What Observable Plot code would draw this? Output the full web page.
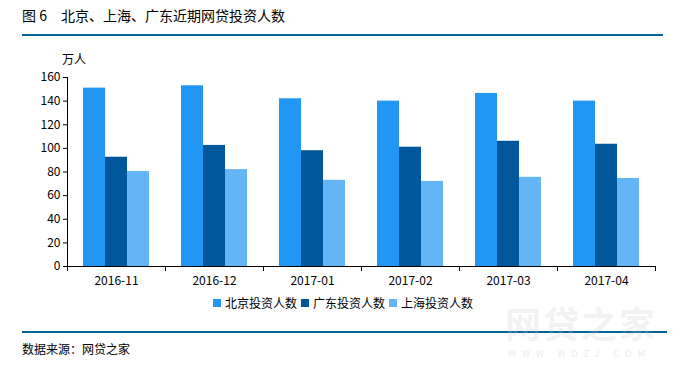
<!DOCTYPE html>
<html>
<head>
<meta charset="utf-8">
<script src="https://cdn.jsdelivr.net/npm/d3@7"></script>
<script src="https://cdn.jsdelivr.net/npm/@observablehq/plot@0.6"></script>
<style>
  html, body { margin: 0; padding: 0; background: #fff; }
  #wrap { position: relative; width: 676px; height: 367px; overflow: hidden;
    font-family: "Noto Sans CJK SC", "Noto Sans", sans-serif; color: #000; }
  .abs { position: absolute; white-space: nowrap; }
  #chart { position: absolute; left: 0; top: 0; }
  #legend { position: absolute; top: 295px; left: 213px; display: flex; font-size: 12px; line-height: 16px; }
  #legend span.item { display: inline-flex; align-items: center; margin-right: 4px; }
  #legend span.sw { display: inline-block; width: 8px; height: 8px; margin-right: 4px; }
</style>
</head>
<body>
<div id="wrap">
  <div class="abs" style="left:22px; top:5px; font-size:14px; line-height:20px;">图 6</div>
  <div class="abs" id="title" style="left:61px; top:5px; font-size:14px; line-height:20px;">北京、上海、广东近期网贷投资人数</div>
  <div class="abs" style="left:22px; top:34px; width:641px; height:2px; background:#00639a;"></div>
  <div class="abs" id="unit" style="left:62px; top:51px; font-size:12px; line-height:16px;">万人</div>
  <div id="chart"></div>
  <div id="legend"></div>
  <div class="abs" style="left:22px; top:331px; width:645px; height:2px; background:#00639a;"></div>
  <div class="abs" id="source" style="left:22px; top:341px; font-size:12px; line-height:16px;">数据来源：网贷之家</div>
  <div class="abs" style="left:505px; top:300px; font-size:36px; font-weight:bold; color:rgba(200,200,200,0.22); letter-spacing:2px; line-height:44px;">网贷之家</div>
  <div class="abs" style="left:508px; top:348px; font-size:9px; color:rgba(180,180,180,0.3); letter-spacing:6px; line-height:12px;">WWW.WDZJ.COM</div>
</div>
<script>
const months = ["2016-11", "2016-12", "2017-01", "2017-02", "2017-03", "2017-04"];
const seriesNames = ["北京投资人数", "广东投资人数", "上海投资人数"];
const beijing = [151, 153, 142, 140, 146.5, 140];
const guangdong = [92.5, 102.5, 98, 101, 106, 103.5];
const shanghai = [80.5, 82, 73, 72, 75.5, 74.5];
const yTicks = [0, 20, 40, 60, 80, 100, 120, 140, 160];
const colors = ["#2196f3", "#01579b", "#64b5f6"];

const seriesValues = [beijing, guangdong, shanghai];
const rows = seriesNames.map((name, i) => months.map((m, j) => ({month: m, series: name, value: seriesValues[i][j]})));

const bandW = 98, barW = 22;
const inset = (bandW - barW) / 2;
const offsets = [-barW, 0, barW];

const chart = Plot.plot({
  width: 676,
  height: 292,
  marginTop: 77,
  marginBottom: 26,
  marginLeft: 67,
  marginRight: 21,
  style: {fontFamily: '"Noto Sans CJK SC", "Noto Sans", sans-serif', fontSize: "12px", color: "#000", background: "transparent", overflow: "visible"},
  x: {domain: months, padding: 0},
  y: {domain: [0, 160]},
  marks: [
    ...rows.map((data, i) => Plot.barY(data, {x: "month", y: "value", fill: colors[i], dx: offsets[i], insetLeft: inset, insetRight: inset})),
    Plot.ruleY([0], {stroke: "#000", strokeWidth: 1}),
    Plot.ruleX([months[0]], {x: d => d, dx: -bandW / 2, y1: -4.2, y2: 160, stroke: "#000"}),
    Plot.ruleX(months.slice(1), {x: d => d, dx: -bandW / 2, y1: -4.2, y2: 0, stroke: "#000"}),
    Plot.ruleX([months[months.length - 1]], {x: d => d, dx: bandW / 2, y1: -4.2, y2: 0, stroke: "#000"}),
    Plot.axisY({ticks: yTicks, tickSize: 4, tickPadding: 3, label: null, fill: "#000", stroke: "#000", fontSize: 12}),
    Plot.axisX({tickSize: 0, tickPadding: 10, label: null, fill: "#000", fontSize: 12})
  ]
});
document.getElementById("chart").appendChild(chart);

const legend = document.getElementById("legend");
seriesNames.forEach((name, i) => {
  const item = document.createElement("span");
  item.className = "item";
  const sw = document.createElement("span");
  sw.className = "sw";
  sw.style.background = colors[i];
  item.appendChild(sw);
  item.appendChild(document.createTextNode(name));
  legend.appendChild(item);
});
</script>
</body>
</html>
